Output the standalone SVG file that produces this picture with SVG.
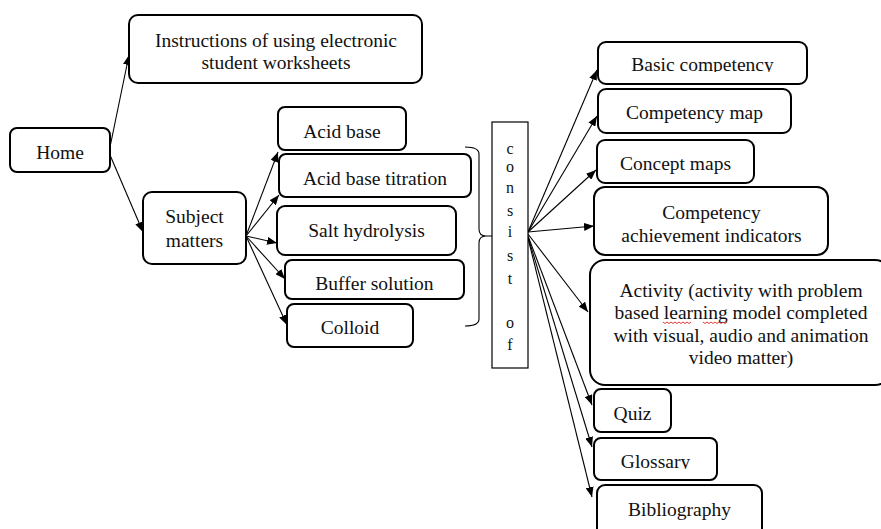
<svg xmlns="http://www.w3.org/2000/svg" width="881" height="529" viewBox="0 0 881 529">
<style>
.box{fill:#fff;stroke:#000;stroke-width:2}
.t{font-family:"Liberation Serif","Times New Roman",serif;font-size:19.5px;fill:#111;text-anchor:middle}
.c{font-family:"Liberation Serif","Times New Roman",serif;font-size:16px;fill:#111;text-anchor:middle}
.ln{fill:none;stroke:#000;stroke-width:1.1}
.ar{fill:none;stroke:#000;stroke-width:1.1;marker-end:url(#ah)}
</style>
<defs>
<marker id="ah" markerUnits="userSpaceOnUse" markerWidth="11" markerHeight="8" refX="10" refY="4" orient="auto">
<path d="M0,0 L10,4 L0,8 z" fill="#000"/>
</marker>
<clipPath id="clipBasic"><rect x="598" y="42" width="209" height="30"/></clipPath>
<clipPath id="clipGloss"><rect x="594" y="438" width="123" height="31"/></clipPath>
</defs>

<g id="connectors">
<path class="ar" d="M110,147 L129,55"/>
<path class="ar" d="M110,155 L143,232"/>
<path class="ar" d="M246,236 L278,152"/>
<path class="ar" d="M246,236 L279,195"/>
<path class="ar" d="M246,236 L277,243"/>
<path class="ar" d="M246,236 L285,279"/>
<path class="ar" d="M246,236 L287,325"/>
<path class="ar" d="M528,232 L597,70"/>
<path class="ar" d="M528,232 L597,116"/>
<path class="ar" d="M528,232 L596,170"/>
<path class="ar" d="M528,232 L594,226"/>
<path class="ar" d="M528,234 L588,312"/>
<path class="ar" d="M528,236 L592,405"/>
<path class="ar" d="M528,237 L592,447"/>
<path class="ar" d="M528,238 L592,497"/>
<path class="ln" d="M465,147 Q479,147 479,154 V229 Q479,236 486,236 H492 M486,236 Q479,236 479,243 V319 Q479,326 465,326"/>
</g>

<g id="home">
<rect class="box" x="10" y="128" width="100" height="44" rx="7"/>
<text class="t" x="60" y="159">Home</text>
</g>
<g id="instructions">
<rect class="box" x="129" y="15" width="293" height="68" rx="9"/>
<text class="t" x="276" y="47">Instructions of using electronic</text>
<text class="t" x="276" y="69">student worksheets</text>
</g>
<g id="subject-matters">
<rect class="box" x="143" y="192" width="103" height="72" rx="9"/>
<text class="t" x="194.5" y="223">Subject</text>
<text class="t" x="194.5" y="247">matters</text>
</g>
<g id="acid-base">
<rect class="box" x="278" y="107" width="128" height="43" rx="7"/>
<text class="t" x="342" y="138">Acid base</text>
</g>
<g id="acid-base-titration">
<rect class="box" x="279" y="154" width="192" height="43" rx="7"/>
<text class="t" x="375" y="185">Acid base titration</text>
</g>
<g id="salt-hydrolysis">
<rect class="box" x="277" y="206" width="179" height="49" rx="8"/>
<text class="t" x="366.5" y="237">Salt hydrolysis</text>
</g>
<g id="buffer-solution">
<rect class="box" x="285" y="260" width="179" height="39" rx="7"/>
<text class="t" x="374.5" y="290">Buffer solution</text>
</g>
<g id="colloid">
<rect class="box" x="287" y="304" width="126" height="43" rx="7"/>
<text class="t" x="350" y="334">Colloid</text>
</g>

<g id="consist-of">
<rect x="492" y="122" width="36" height="246" fill="#fff" stroke="#000" stroke-width="1.2"/>
<text class="c" x="510" y="154">c</text>
<text class="c" x="510" y="172">o</text>
<text class="c" x="510" y="193">n</text>
<text class="c" x="510" y="216">s</text>
<text class="c" x="510" y="237">i</text>
<text class="c" x="510" y="261">s</text>
<text class="c" x="510" y="284">t</text>
<text class="c" x="510" y="328">o</text>
<text class="c" x="510" y="350">f</text>
</g>

<g id="basic-competency">
<rect class="box" x="598" y="42" width="209" height="42" rx="8"/>
<text class="t" x="702.5" y="71" clip-path="url(#clipBasic)">Basic competency</text>
</g>
<g id="competency-map">
<rect class="box" x="598" y="89" width="193" height="44" rx="8"/>
<text class="t" x="694.5" y="119">Competency map</text>
</g>
<g id="concept-maps">
<rect class="box" x="597" y="140" width="157" height="43" rx="8"/>
<text class="t" x="675.5" y="170">Concept maps</text>
</g>
<g id="competency-achievement-indicators">
<rect class="box" x="594" y="187" width="234" height="68" rx="11"/>
<text class="t" x="711.5" y="219">Competency</text>
<text class="t" x="711.5" y="242">achievement indicators</text>
</g>
<g id="activity">
<rect class="box" x="590" y="260" width="300" height="125" rx="15"/>
<text class="t" x="741" y="297">Activity (activity with problem</text>
<text class="t" x="741" y="319">based learning model completed</text>
<text class="t" x="741" y="342">with visual, audio and animation</text>
<text class="t" x="741" y="364">video matter)</text>
<path d="M663,322 l2,1.5 l2,-1.5 l2,1.5 l2,-1.5 l2,1.5 l2,-1.5 l2,1.5 l2,-1.5 l2,1.5 l2,-1.5 l2,1.5 l2,-1.5 l2,1.5 l2,-1.5 M703,322 l2,1.5 l2,-1.5 l2,1.5 l2,-1.5 l2,1.5 l2,-1.5 l2,1.5 l2,-1.5 l2,1.5 l2,-1.5 l2,1.5 l2,-1.5" fill="none" stroke="#d22" stroke-width="0.9"/>
</g>
<g id="quiz">
<rect class="box" x="594" y="389" width="77" height="43" rx="7"/>
<text class="t" x="632.5" y="420">Quiz</text>
</g>
<g id="glossary">
<rect class="box" x="594" y="438" width="123" height="42" rx="7"/>
<text class="t" x="655.5" y="468" clip-path="url(#clipGloss)">Glossary</text>
</g>
<g id="bibliography">
<rect class="box" x="597" y="485" width="165" height="60" rx="8"/>
<text class="t" x="679.5" y="516">Bibliography</text>
</g>
</svg>
